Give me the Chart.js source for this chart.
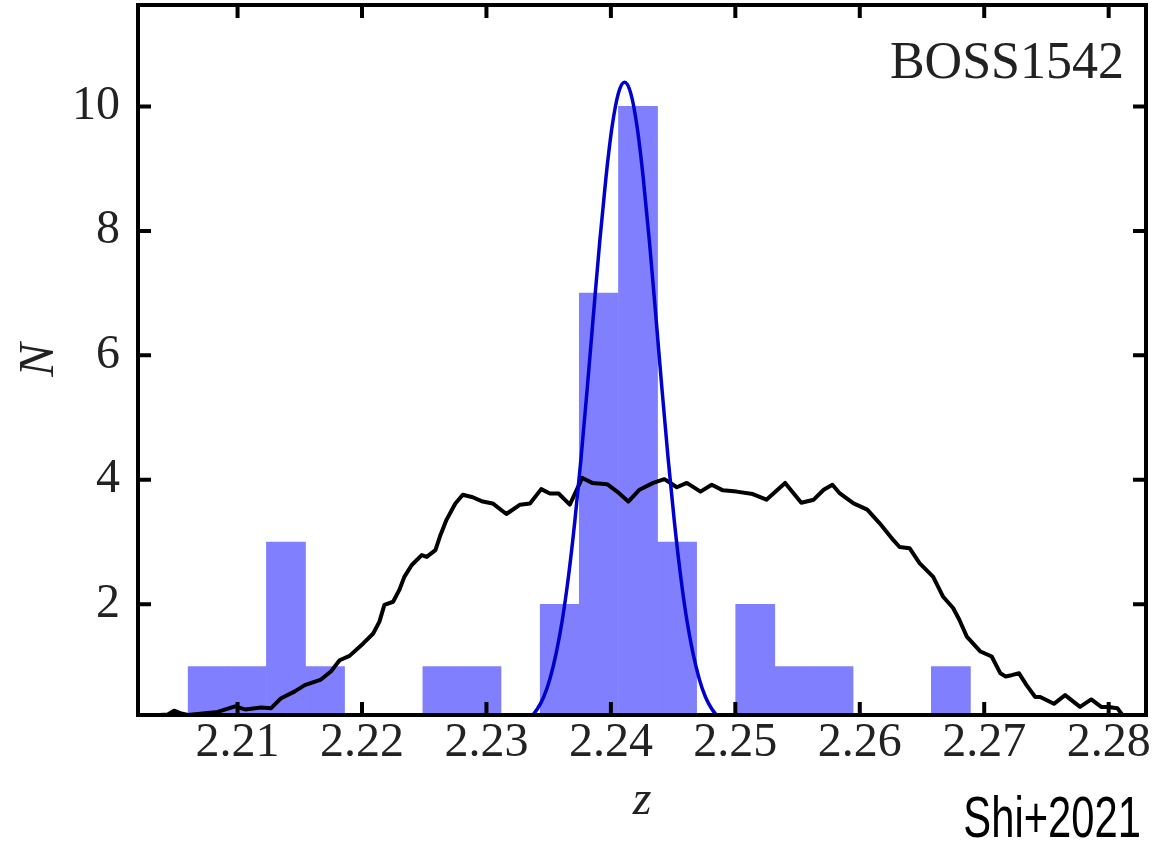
<!DOCTYPE html>
<html lang="en">
<head>
<meta charset="UTF-8">
<title>BOSS1542 redshift distribution</title>
<script src="https://cdn.jsdelivr.net/npm/chart.js"></script>
<style>
    body { margin: 0; background: #fff; }
    #wrap { width: 1169px; height: 842px; }
</style>
</head>
<body>
<div id="wrap"><canvas id="zChart" width="1169" height="842"></canvas></div>
<script>
// histogram: bin centres (z) and counts
const binCenters = [2.20760, 2.21074, 2.21389, 2.21703, 2.22017, 2.22332, 2.22646, 2.22960, 2.23275, 2.23589,
                    2.23903, 2.24218, 2.24532, 2.24846, 2.25160, 2.25475, 2.25789, 2.26103, 2.26418, 2.26732];
const binCounts = [1, 1, 3, 1, 0, 0, 1, 1, 0, 2, 7, 10, 3, 0, 2, 1, 1, 0, 0, 1];

// black curve (selection function)
const curveZ = [2.2021, 2.2044, 2.2049, 2.2054, 2.2060, 2.2084, 2.2098, 2.2106, 2.2119, 2.2127,
                2.2135, 2.2146, 2.2154, 2.2167, 2.2175, 2.2182, 2.2190, 2.2201, 2.2209, 2.2214,
                2.2218, 2.2225, 2.2230, 2.2234, 2.2240, 2.2248, 2.2252, 2.2259, 2.2263, 2.2268,
                2.2275, 2.2281, 2.2289, 2.2297, 2.2305, 2.2316, 2.2319, 2.2327, 2.2335, 2.2344,
                2.2351, 2.2358, 2.2367, 2.2377, 2.2385, 2.2397, 2.2405, 2.2414, 2.2423, 2.2434,
                2.2443, 2.2453, 2.2461, 2.2472, 2.2481, 2.2490, 2.2501, 2.2514, 2.2525, 2.2540,
                2.2553, 2.2563, 2.2571, 2.2578, 2.2584, 2.2595, 2.2606, 2.2616, 2.2627, 2.2632,
                2.2640, 2.2648, 2.2659, 2.2667, 2.2675, 2.2680, 2.2686, 2.2697, 2.2706, 2.2713,
                2.2717, 2.2722, 2.2728, 2.2734, 2.2741, 2.2745, 2.2756, 2.2765, 2.2777, 2.2786,
                2.2794, 2.2800, 2.2807, 2.2811];
const curveN = [0.20, 0.23, 0.29, 0.25, 0.22, 0.27, 0.36, 0.31, 0.34, 0.33,
                0.49, 0.60, 0.70, 0.79, 0.92, 1.10, 1.17, 1.37, 1.53, 1.72,
                1.99, 2.04, 2.23, 2.44, 2.63, 2.79, 2.76, 2.87, 3.11, 3.36,
                3.62, 3.76, 3.72, 3.65, 3.62, 3.45, 3.49, 3.60, 3.62, 3.85,
                3.78, 3.78, 3.60, 4.03, 3.95, 3.93, 3.81, 3.65, 3.84, 3.95,
                4.01, 3.88, 3.95, 3.81, 3.92, 3.83, 3.81, 3.77, 3.68, 3.95,
                3.63, 3.68, 3.84, 3.92, 3.78, 3.62, 3.52, 3.30, 3.03, 2.92,
                2.90, 2.66, 2.44, 2.12, 1.94, 1.75, 1.48, 1.24, 1.16, 0.89,
                0.84, 0.86, 0.89, 0.70, 0.51, 0.51, 0.40, 0.54, 0.35, 0.47,
                0.35, 0.35, 0.33, 0.22];

// blue gaussian fit
const fitZ = [2.2336, 2.2341, 2.2346, 2.2351, 2.2356, 2.2361, 2.2366, 2.2371, 2.2376, 2.2381,
              2.2386, 2.2391, 2.2396, 2.2401, 2.2406, 2.2411, 2.2416, 2.2421, 2.2426, 2.2431,
              2.2436, 2.2441, 2.2446, 2.2451, 2.2456, 2.2461, 2.2466, 2.2471, 2.2476, 2.2481, 2.2486];
const fitN = [0.19, 0.32, 0.51, 0.80, 1.21, 1.75, 2.46, 3.33, 4.34, 5.47,
              6.66, 7.82, 8.85, 9.68, 10.21, 10.39, 10.21, 9.68, 8.85, 7.82,
              6.66, 5.47, 4.34, 3.33, 2.46, 1.75, 1.21, 0.80, 0.51, 0.32, 0.19];

const xTicks = [2.21, 2.22, 2.23, 2.24, 2.25, 2.26, 2.27, 2.28];
const yTicks = [2, 4, 6, 8, 10];

const serif = '"Liberation Serif", "DejaVu Serif", serif';

// frame with inward ticks on all four sides, plus the two text labels
const framePlugin = {
    id: 'frame',
    afterDraw(chart) {
        const { ctx, chartArea: a, scales: { x, y } } = chart;
        ctx.save();
        ctx.strokeStyle = '#000';
        ctx.lineWidth = 4;
        ctx.strokeRect(a.left, a.top, a.right - a.left, a.bottom - a.top);
        const len = 13;
        ctx.lineWidth = 4;
        ctx.beginPath();
        xTicks.forEach(v => {
            const px = x.getPixelForValue(v);
            ctx.moveTo(px, a.bottom); ctx.lineTo(px, a.bottom - len);
            ctx.moveTo(px, a.top); ctx.lineTo(px, a.top + len);
        });
        yTicks.forEach(v => {
            const py = y.getPixelForValue(v);
            ctx.moveTo(a.left, py); ctx.lineTo(a.left + len, py);
            ctx.moveTo(a.right, py); ctx.lineTo(a.right - len, py);
        });
        ctx.stroke();

        ctx.fillStyle = '#222';
        ctx.textAlign = 'right';
        ctx.textBaseline = 'alphabetic';
        ctx.font = '52px ' + serif;
        ctx.fillText('BOSS1542', a.right - 22, 78);

        // narrow sans credit, squeezed horizontally
        ctx.fillStyle = '#000';
        ctx.font = '58px "Liberation Sans", Arial, sans-serif';
        ctx.translate(1141, 837);
        ctx.scale(0.72, 1);
        ctx.fillText('Shi+2021', 0, 0);
        ctx.restore();
    }
};

new Chart(document.getElementById('zChart'), {
    type: 'bar',
    data: {
        datasets: [
            {
                type: 'line',
                label: 'fit',
                data: fitZ.map((z, i) => ({ x: z, y: fitN[i] })),
                borderColor: '#0000cd',
                borderWidth: 3.5,
                pointRadius: 0,
                cubicInterpolationMode: 'monotone',
                order: 1
            },
            {
                type: 'line',
                label: 'selection',
                data: curveZ.map((z, i) => ({ x: z, y: curveN[i] })),
                borderColor: '#000',
                borderWidth: 4,
                borderJoinStyle: 'round',
                pointRadius: 0,
                tension: 0,
                order: 2
            },
            {
                type: 'bar',
                label: 'LAEs',
                data: binCenters.map((c, i) => ({ x: c, y: binCounts[i] })),
                backgroundColor: '#8080ff',
                borderWidth: 0,
                barPercentage: 1,
                categoryPercentage: 1,
                order: 3
            }
        ]
    },
    options: {
        responsive: false,
        animation: false,
        layout: { padding: { top: 5, right: 23, left: 0, bottom: 0 } },
        plugins: { legend: { display: false }, tooltip: { enabled: false } },
        scales: {
            x: {
                type: 'linear',
                min: 2.2020,
                max: 2.2830,
                offset: false,
                grid: { display: false },
                border: { display: false },
                afterBuildTicks: s => { s.ticks = xTicks.map(v => ({ value: v })); },
                afterFit: s => { s.height = 127; s.paddingLeft = 0; s.paddingRight = 0; },
                ticks: {
                    font: { family: serif, size: 48 },
                    color: '#222',
                    padding: -8,
                    maxRotation: 0,
                    autoSkip: false,
                    callback: v => v.toFixed(2)
                },
                title: {
                    display: true,
                    text: 'z',
                    color: '#222',
                    font: { family: serif, size: 48, style: 'italic' },
                    padding: { top: 0, bottom: 12 }
                }
            },
            y: {
                type: 'linear',
                min: 0.22,
                max: 11.63,
                grid: { display: false },
                border: { display: false },
                afterBuildTicks: s => { s.ticks = yTicks.map(v => ({ value: v })); },
                afterFit: s => { s.width = 138; s.paddingTop = 0; s.paddingBottom = 0; },
                ticks: {
                    font: { family: serif, size: 48 },
                    color: '#222',
                    padding: 10,
                    callback: v => String(v)
                },
                title: {
                    display: true,
                    text: 'N',
                    color: '#222',
                    font: { family: serif, size: 50, style: 'italic' },
                    padding: { top: 10, bottom: 0 }
                }
            }
        }
    },
    plugins: [framePlugin]
});
</script>
</body>
</html>
